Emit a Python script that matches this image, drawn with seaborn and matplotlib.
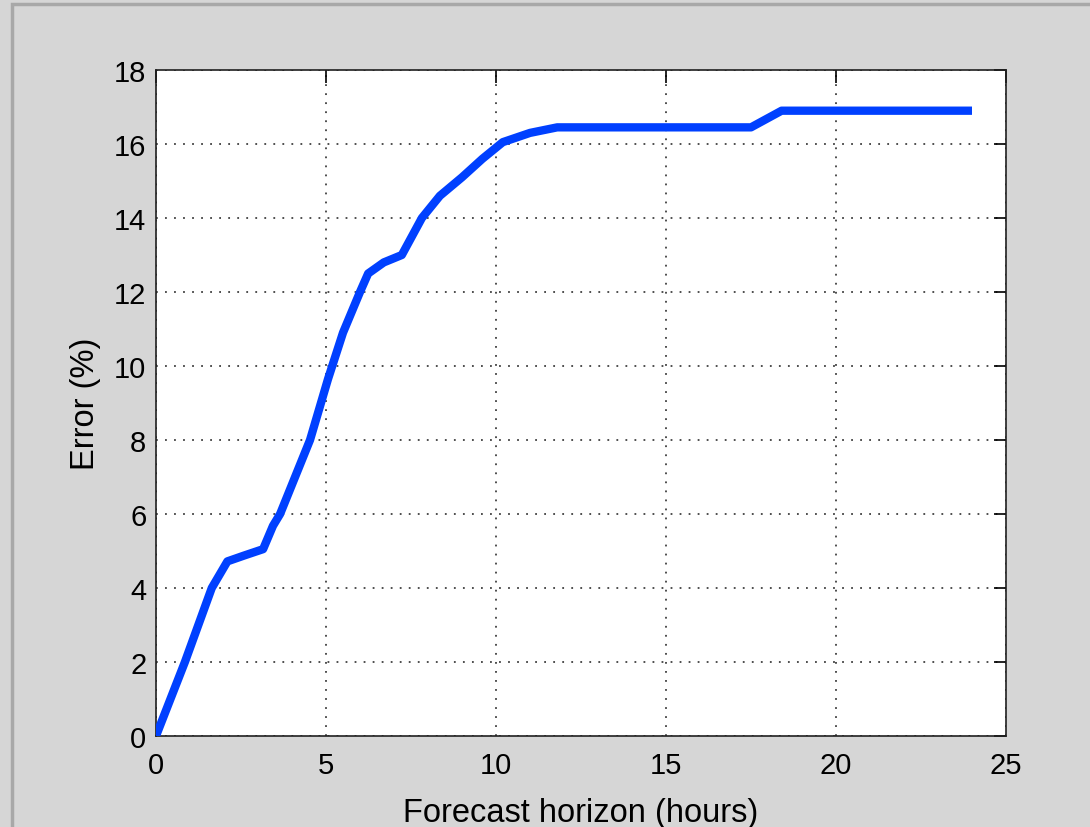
import numpy as np
import pandas as pd
import matplotlib
matplotlib.use("Agg")
import matplotlib.pyplot as plt
import seaborn as sns
from matplotlib.patches import Rectangle

# values
horizon = [0, 0.85, 1.64, 2.1, 2.6, 3.15, 3.44, 3.65, 4.53, 5.06, 5.5, 6.0, 6.24, 6.7, 7.23, 7.82, 8.35,
           9.0, 9.6, 10.2, 11.0, 11.8, 17.5, 18.4, 24.0]
error = [0, 2.0, 4.0, 4.72, 4.88, 5.05, 5.68, 6.0, 8.0, 9.65, 10.9, 12.0, 12.5, 12.8, 13.0, 14.0, 14.6,
         15.1, 15.6, 16.05, 16.3, 16.45, 16.45, 16.9, 16.9]

df = pd.DataFrame({'Forecast horizon (hours)': horizon, 'Error (%)': error})

sns.set_style("white")
plt.rcParams['font.family'] = ['Liberation Sans', 'DejaVu Sans']
plt.rcParams['text.color'] = 'black'
plt.rcParams['axes.labelcolor'] = 'black'

fig = plt.figure(figsize=(10.9, 8.28), dpi=100, facecolor='#d6d6d6')
fig.patches.append(Rectangle((12 / 1090, -0.1), 1.2, (828 - 5) / 828 + 0.1, transform=fig.transFigure,
                             fill=False, edgecolor='#a8a8a8', linewidth=2.5, zorder=0))
ax = fig.add_axes([156 / 1090, 91 / 828, 850 / 1090, 666 / 828])

sns.lineplot(data=df, x='Forecast horizon (hours)', y='Error (%)', ax=ax, color='#0040ff',
             linewidth=6.0, solid_capstyle='butt', zorder=3)

ax.set_xlim(0, 25)
ax.set_ylim(0, 18)
ax.set_xticks(range(0, 26, 5))
ax.set_yticks(range(0, 19, 2))
ax.grid(True, linestyle=(0, (1, 4)), color='#404040', linewidth=1.3)
ax.tick_params(direction='in', length=9, width=1.2, top=True, right=True, labelsize=21, colors='black')
ax.tick_params(axis='x', pad=11)
ax.tick_params(axis='y', pad=7)
for s in ax.spines.values():
    s.set_visible(True)
    s.set_color('#202020')
    s.set_linewidth(1.2)
ax.set_xlabel('Forecast horizon (hours)', fontsize=23.5, labelpad=13)
ax.set_ylabel('Error (%)', fontsize=23.5, labelpad=9)

fig.savefig('out.png', dpi=100, facecolor=fig.get_facecolor())
